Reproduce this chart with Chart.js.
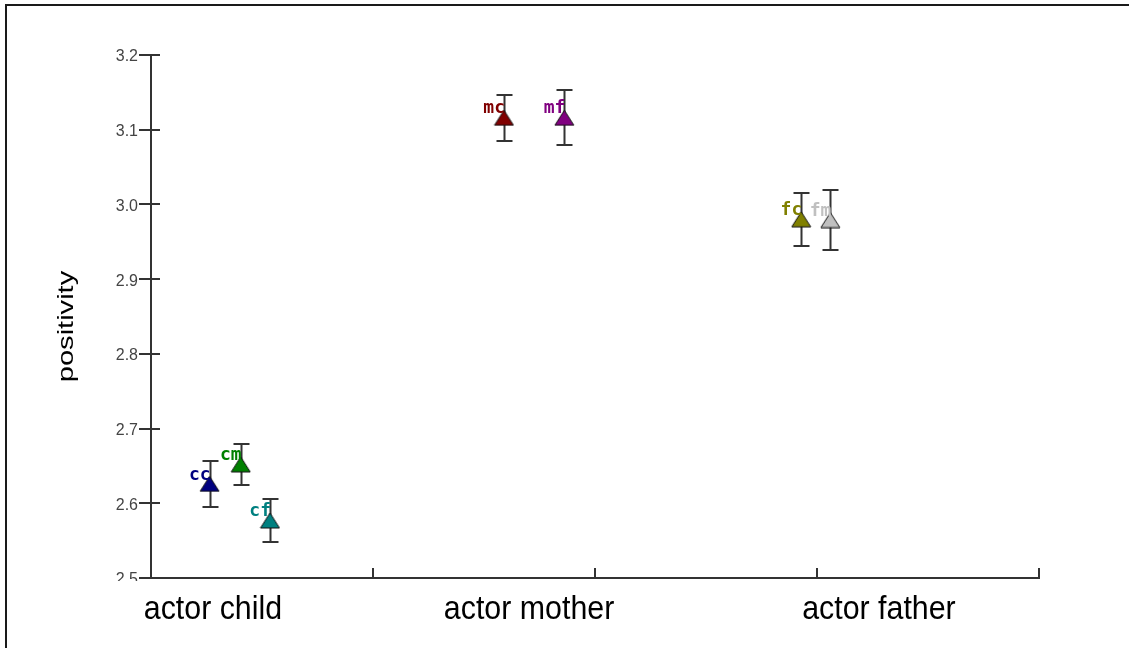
<!DOCTYPE html>
<html>
<head>
<meta charset="utf-8">
<script src="https://cdn.jsdelivr.net/npm/chart.js@4.4.1/dist/chart.umd.min.js"></script>
<style>
  html, body { margin: 0; padding: 0; background: #ffffff; }
  #wrap { width: 1129px; height: 648px; position: relative; }
</style>
</head>
<body>
<div id="wrap"><canvas id="c" width="1129" height="648"></canvas></div>
<script>
// Group means of positivity with their error margins
const categories = ['actor child', 'actor mother', 'actor father'];
const pointLabels = ['cc', 'cm', 'cf', 'mc', 'mf', 'fc', 'fm'];
const pointX = [0.264, 0.404, 0.536, 1.590, 1.862, 2.929, 3.060];
const positivity = [2.626, 2.652, 2.577, 3.116, 3.116, 2.980, 2.979];
const errors = [0.031, 0.028, 0.029, 0.031, 0.037, 0.035, 0.040];
const yTicks = [2.5, 2.6, 2.7, 2.8, 2.9, 3.0, 3.1, 3.2];

const palette = ['#000080', '#008000', '#008080', '#800000', '#800080', '#808000', '#c0c0c0'];
const AXIS = '#333333';
const SANS = '"Liberation Sans", Arial, sans-serif';

// Triangle markers, centred on their box so the value sits mid-triangle
function triangle(color) {
  const cv = document.createElement('canvas');
  cv.width = 21; cv.height = 17;
  const g = cv.getContext('2d');
  g.beginPath();
  g.moveTo(10.5, 1);
  g.lineTo(20, 16);
  g.lineTo(1, 16);
  g.closePath();
  g.fillStyle = color;
  g.fill();
  g.lineWidth = 1;
  g.strokeStyle = '#111111';
  g.stroke();
  return cv;
}

const decorations = {
  id: 'decorations',
  beforeDraw(chart) {
    const ctx = chart.ctx;
    ctx.save();
    ctx.fillStyle = '#ffffff';
    ctx.fillRect(0, 0, chart.width, chart.height);
    ctx.restore();
  },
  beforeDatasetsDraw(chart) {
    // error bars with caps
    const ctx = chart.ctx, xs = chart.scales.x, ys = chart.scales.y;
    ctx.save();
    ctx.strokeStyle = AXIS;
    ctx.lineWidth = 2;
    pointX.forEach((xv, i) => {
      const px = Math.round(xs.getPixelForValue(xv)) + 0.5;
      const top = Math.round(ys.getPixelForValue(positivity[i] + errors[i]));
      const bot = Math.round(ys.getPixelForValue(positivity[i] - errors[i]));
      ctx.beginPath();
      ctx.moveTo(px, top); ctx.lineTo(px, bot);
      ctx.moveTo(px - 8, top); ctx.lineTo(px + 8, top);
      ctx.moveTo(px - 8, bot); ctx.lineTo(px + 8, bot);
      ctx.stroke();
    });
    ctx.restore();
  },
  afterDatasetsDraw(chart) {
    // short code beside each marker
    const ctx = chart.ctx, xs = chart.scales.x, ys = chart.scales.y;
    ctx.save();
    ctx.font = 'bold 18px "DejaVu Sans Mono", monospace';
    ctx.textAlign = 'right';
    ctx.textBaseline = 'middle';
    pointX.forEach((xv, i) => {
      const px = xs.getPixelForValue(xv);
      const py = ys.getPixelForValue(positivity[i]);
      ctx.fillStyle = palette[i];
      ctx.fillText(pointLabels[i], px + 1, py - 9);
    });
    ctx.restore();
  },
  afterDraw(chart, args, opts) {
    const ctx = chart.ctx, xs = chart.scales.x, ys = chart.scales.y;
    const area = chart.chartArea;
    ctx.save();
    ctx.strokeStyle = AXIS;
    ctx.lineWidth = 2;
    // inner tick marks on both axes
    ctx.beginPath();
    xs.ticks.forEach(t => {
      const px = Math.round(xs.getPixelForValue(t.value));
      if (px <= area.left + 2) return;
      ctx.moveTo(px, area.bottom - 10); ctx.lineTo(px, area.bottom);
    });
    ys.ticks.forEach(t => {
      const py = Math.round(ys.getPixelForValue(t.value));
      ctx.moveTo(area.left, py); ctx.lineTo(area.left + 9, py);
    });
    ctx.stroke();

    // blank strip under the axis
    ctx.fillStyle = '#ffffff';
    ctx.fillRect(8, area.bottom + 3, 1090, chart.height - area.bottom);

    // category names
    ctx.fillStyle = '#000000';
    ctx.font = '33px ' + SANS;
    ctx.textAlign = 'center';
    ctx.textBaseline = 'alphabetic';
    categories.forEach((name, i) => {
      const cx = xs.getPixelForValue(opts.labelAt[i]);
      ctx.save();
      ctx.translate(cx, opts.labelBaseline);
      ctx.scale(0.92, 1);
      ctx.fillText(name, 0, 0);
      ctx.restore();
    });

    // vertical axis title
    ctx.save();
    ctx.translate(67, (area.top + area.bottom) / 2 + 10);
    ctx.rotate(-Math.PI / 2);
    ctx.scale(1.32, 1);
    ctx.font = '22px ' + SANS;
    ctx.textAlign = 'center';
    ctx.textBaseline = 'middle';
    ctx.fillText('positivity', 0, 0);
    ctx.restore();

    // outer frame on top and left edges
    ctx.strokeStyle = '#1a1a1a';
    ctx.lineWidth = 2;
    ctx.beginPath();
    ctx.moveTo(6, chart.height);
    ctx.lineTo(6, 5);
    ctx.lineTo(chart.width, 5);
    ctx.stroke();
    ctx.restore();
  }
};

new Chart(document.getElementById('c'), {
  type: 'scatter',
  data: {
    datasets: [{
      data: pointX.map((x, i) => ({ x: x, y: positivity[i] })),
      pointStyle: palette.map(triangle),
      pointRadius: 10,
      showLine: false
    }]
  },
  options: {
    responsive: false,
    animation: false,
    events: [],
    layout: { padding: { top: 55, right: 90, bottom: 70, left: 0 } },
    plugins: {
      legend: { display: false },
      tooltip: { enabled: false },
      decorations: { labelAt: [0.279, 1.703, 3.279], labelBaseline: 619 }
    },
    scales: {
      x: {
        type: 'linear',
        min: 0,
        max: 4,
        ticks: { stepSize: 1, display: false },
        grid: { drawOnChartArea: false, drawTicks: false },
        border: { color: AXIS, width: 2 },
        afterFit(s) { s.height = 0; }
      },
      y: {
        type: 'linear',
        min: 2.5,
        max: 3.2,
        afterBuildTicks(s) { s.ticks = yTicks.map(v => ({ value: v })); },
        ticks: {
          callback: v => Number(v).toFixed(1),
          font: { family: SANS, size: 16 },
          color: '#444444',
          padding: 1,
          labelOffset: 2
        },
        grid: { drawOnChartArea: false, tickLength: 12, color: AXIS, lineWidth: 2 },
        border: { color: AXIS, width: 2 },
        afterFit(s) { s.width = 151; }
      }
    }
  },
  plugins: [decorations]
});
</script>
</body>
</html>
